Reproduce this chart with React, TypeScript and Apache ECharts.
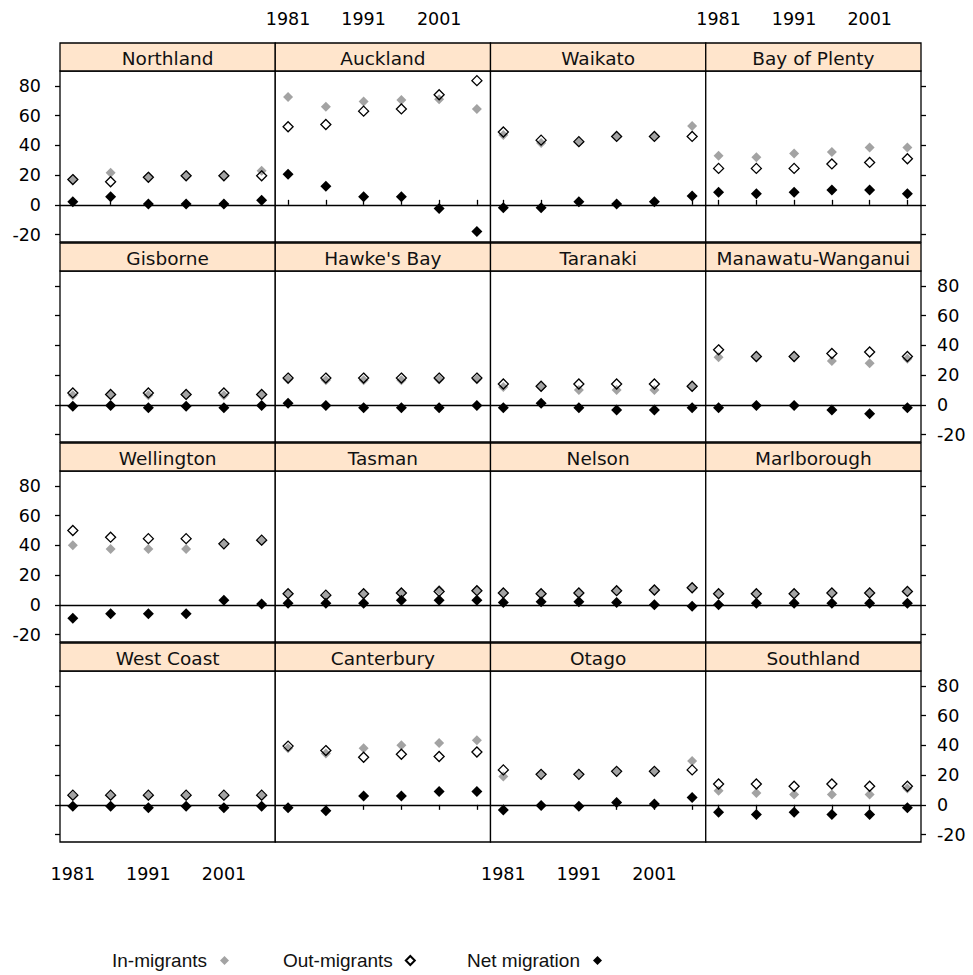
import React, { useEffect, useRef } from "react";
import * as echarts from "echarts";

// ---------- data ----------
const years = [1981, 1986, 1991, 1996, 2001, 2006];
const yearLabels = [1981, 1991, 2001];
const yTicks = [-20, 0, 20, 40, 60, 80];

const regions = [
  "Northland", "Auckland", "Waikato", "Bay of Plenty",
  "Gisborne", "Hawke's Bay", "Taranaki", "Manawatu-Wanganui",
  "Wellington", "Tasman", "Nelson", "Marlborough",
  "West Coast", "Canterbury", "Otago", "Southland",
];

const inMigrants = [
  [17, 21.5, 19, 19.5, 19.5, 23],
  [72.5, 66, 69.5, 70.5, 71, 64.5],
  [47, 41.5, 42, 46, 46, 53],
  [33, 32, 34.5, 35.5, 38.5, 38.5],
  [6.5, 6.5, 6.5, 6.5, 6.5, 6.5],
  [17, 16.5, 16.5, 16.5, 17, 17],
  [12, 12, 10, 10, 10, 12],
  [32, 32, 32, 29.5, 28, 31],
  [40, 37.5, 37.5, 37.5, 40.5, 43],
  [7, 6, 7, 8, 10, 10],
  [7.5, 7.5, 7.5, 9.5, 10, 11.5],
  [7, 7.5, 7.5, 7.5, 7.5, 8.5],
  [6, 6, 6, 6, 6, 6],
  [38, 34.5, 38, 40, 41.5, 43.5],
  [19, 20.5, 20.5, 22, 22, 29.5],
  [9.5, 8, 7, 7, 7, 11],
];

const outMigrants = [
  [17, 15.5, 18.5, 19.5, 19.5, 19.5],
  [52.5, 54, 63, 64.5, 74, 83.5],
  [49, 43.5, 42.5, 46, 46, 46],
  [24.5, 24.5, 24.5, 27.5, 28.5, 31],
  [8, 7, 8, 7, 8, 7],
  [18, 18, 18, 18, 18, 18],
  [14, 12.5, 14, 14, 14, 12.5],
  [37, 32.5, 32.5, 34.5, 35.5, 32.5],
  [50, 45.5, 44.5, 44.5, 41, 43.5],
  [7.5, 6.5, 7.5, 8, 9, 9.5],
  [8, 7.5, 8, 9.5, 10, 11.5],
  [7.5, 7.5, 7.5, 8, 8, 9],
  [6.5, 6.5, 6.5, 6.5, 6.5, 6.5],
  [39.5, 36.5, 32, 34, 32.5, 35.5],
  [23.5, 20.5, 20.5, 22.5, 22.5, 23.5],
  [14, 14, 12.5, 14, 12.5, 12.5],
];

const netMigration = [
  [2, 5.5, 0.5, 0.5, 0.5, 3],
  [20.5, 12.5, 5.5, 5.5, -2.5, -18],
  [-2, -2, 2, 0.5, 2, 6],
  [8.5, 7.5, 8.5, 10, 10, 7.5],
  [-1, -0.5, -2, -1, -2, -0.5],
  [1, -0.5, -2, -2, -2, -0.5],
  [-2, 1, -2, -3.5, -3.5, -2],
  [-2, -0.5, -0.5, -3.5, -6, -2],
  [-9, -6, -6, -6, 3, 0.5],
  [1, 1, 1, 3, 3, 3],
  [1.5, 2, 2, 1.5, 0, -1],
  [0, 1, 1, 1, 1, 1],
  [-1, -1, -2, -1, -2, -1],
  [-2, -4, 6, 6, 9, 9],
  [-3.5, -0.5, -1, 1.5, 0.5, 5],
  [-5, -6.5, -5, -6.5, -6.5, -2],
];

const seriesNames = ["In-migrants", "Out-migrants", "Net migration"];

// ---------- layout ----------
const W = 973;
const H = 975;
const PLOT_LEFT = 60;
const PLOT_RIGHT = 921;
const STRIP_TOP0 = 43;
const STRIP_H = 28;
const PANEL_H = 171;
const ROW_PITCH = 200;
const NCOL = 4;
const COL_W = (PLOT_RIGHT - PLOT_LEFT) / NCOL;

const X_MIN = 1979.3;
const X_MAX = 2007.8;
const Y_MIN = -25;
const Y_MAX = 90;

const TICK_FONT = { fontFamily: "DejaVu Sans", fontSize: 17.5, color: "#000" };

function buildOption() {
  const grids: any[] = [];
  const xAxes: any[] = [];
  const yAxes: any[] = [];
  const series: any[] = [];
  const graphics: any[] = [];

  regions.forEach((name, i) => {
    const r = Math.floor(i / NCOL);
    const c = i % NCOL;
    const left = PLOT_LEFT + c * COL_W;
    const stripTop = STRIP_TOP0 + r * ROW_PITCH;
    const top = stripTop + STRIP_H;

    grids.push({
      left,
      top,
      width: COL_W,
      height: PANEL_H,
      show: true,
      borderColor: "#000",
      borderWidth: 1.3,
      backgroundColor: "#fff",
      containLabel: false,
    });

    const isTop = r === 0;
    const isBottom = r === 3;
    const xShow = isTop || isBottom;
    const xLabelShow = (isTop && (c === 1 || c === 3)) || (isBottom && (c === 0 || c === 2));
    xAxes.push({
      type: "value",
      gridIndex: i,
      min: X_MIN,
      max: X_MAX,
      show: xShow,
      position: isTop ? "top" : "bottom",
      offset: isTop ? STRIP_H : 0,
      axisLine: { show: false },
      splitLine: { show: false },
      axisTick: {
        show: true,
        inside: false,
        length: 5,
        customValues: years,
        lineStyle: { color: "#000", width: 1.3 },
      },
      axisLabel: {
        show: xLabelShow,
        customValues: yearLabels,
        margin: isTop ? 15 : 23,
        formatter: (v: number) => String(v),
        ...TICK_FONT,
      },
    });

    const isLeft = c === 0;
    const isRight = c === NCOL - 1;
    const yShow = isLeft || isRight;
    const yLabelShow = (isLeft && (r === 0 || r === 2)) || (isRight && (r === 1 || r === 3));
    yAxes.push({
      type: "value",
      gridIndex: i,
      min: Y_MIN,
      max: Y_MAX,
      show: yShow,
      position: isLeft ? "left" : "right",
      axisLine: { show: false },
      splitLine: { show: false },
      axisTick: {
        show: true,
        inside: false,
        length: 5,
        customValues: yTicks,
        lineStyle: { color: "#000", width: 1.3 },
      },
      axisLabel: {
        show: yLabelShow,
        customValues: yTicks,
        margin: isLeft ? 19 : 16,
        ...TICK_FONT,
      },
    });

    const pts = (arr: number[]) => years.map((y, k) => [y, arr[k]]);

    series.push({
      name: seriesNames[0],
      type: "scatter",
      xAxisIndex: i,
      yAxisIndex: i,
      symbol: "diamond",
      symbolSize: 10,
      itemStyle: { color: "#a3a3a3", opacity: 1 },
      data: pts(inMigrants[i]),
      markLine: {
        silent: true,
        symbol: ["none", "none"],
        label: { show: false },
        lineStyle: { color: "#000", width: 1.4, type: "solid", opacity: 1 },
        data: [{ yAxis: 0 }],
      },
    });
    series.push({
      name: seriesNames[1],
      type: "scatter",
      xAxisIndex: i,
      yAxisIndex: i,
      symbol: "diamond",
      symbolSize: 10,
      itemStyle: { color: "rgba(255,255,255,0)", borderColor: "#000", borderWidth: 1.3, opacity: 1 },
      data: pts(outMigrants[i]),
    });
    series.push({
      name: seriesNames[2],
      type: "scatter",
      xAxisIndex: i,
      yAxisIndex: i,
      symbol: "diamond",
      symbolSize: 11,
      itemStyle: { color: "#000", opacity: 1 },
      data: pts(netMigration[i]),
    });

    graphics.push({
      type: "group",
      children: [
        {
          type: "rect",
          shape: { x: left, y: stripTop, width: COL_W, height: STRIP_H },
          style: { fill: "#ffe5cc", stroke: "#000", lineWidth: 1.3 },
        },
        {
          type: "text",
          x: left + COL_W / 2,
          y: stripTop + STRIP_H / 2 + 1,
          style: {
            text: name,
            align: "center",
            verticalAlign: "middle",
            fontFamily: "DejaVu Sans",
            fontSize: 18.5,
            fill: "#111",
          },
        },
      ],
    });
  });

  const legendText = {
    fontFamily: "'Liberation Sans', Arial, sans-serif",
    fontSize: 19,
    color: "#111",
    padding: [0, 8, 0, 0],
  };
  const legendLefts = [112, 283, 467];
  const legends = seriesNames.map((n, k) => ({
    data: [n],
    left: legendLefts[k],
    top: 951,
    orient: "horizontal",
    align: "right",
    padding: 0,
    itemWidth: 9,
    itemHeight: 9,
    selectedMode: false,
    textStyle: legendText,
  }));

  return {
    animation: false,
    backgroundColor: "#fff",
    grid: grids,
    xAxis: xAxes,
    yAxis: yAxes,
    series,
    legend: legends,
    graphic: graphics,
  };
}

export default function App() {
  const ref = useRef<HTMLDivElement>(null);
  useEffect(() => {
    if (!ref.current) return;
    const chart = echarts.init(ref.current, undefined, { renderer: "svg" });
    chart.setOption(buildOption() as any);
    return () => chart.dispose();
  }, []);
  return (
    <div
      ref={ref}
      style={{ position: "absolute", left: 0, top: 0, width: W, height: H, background: "#fff" }}
    />
  );
}
